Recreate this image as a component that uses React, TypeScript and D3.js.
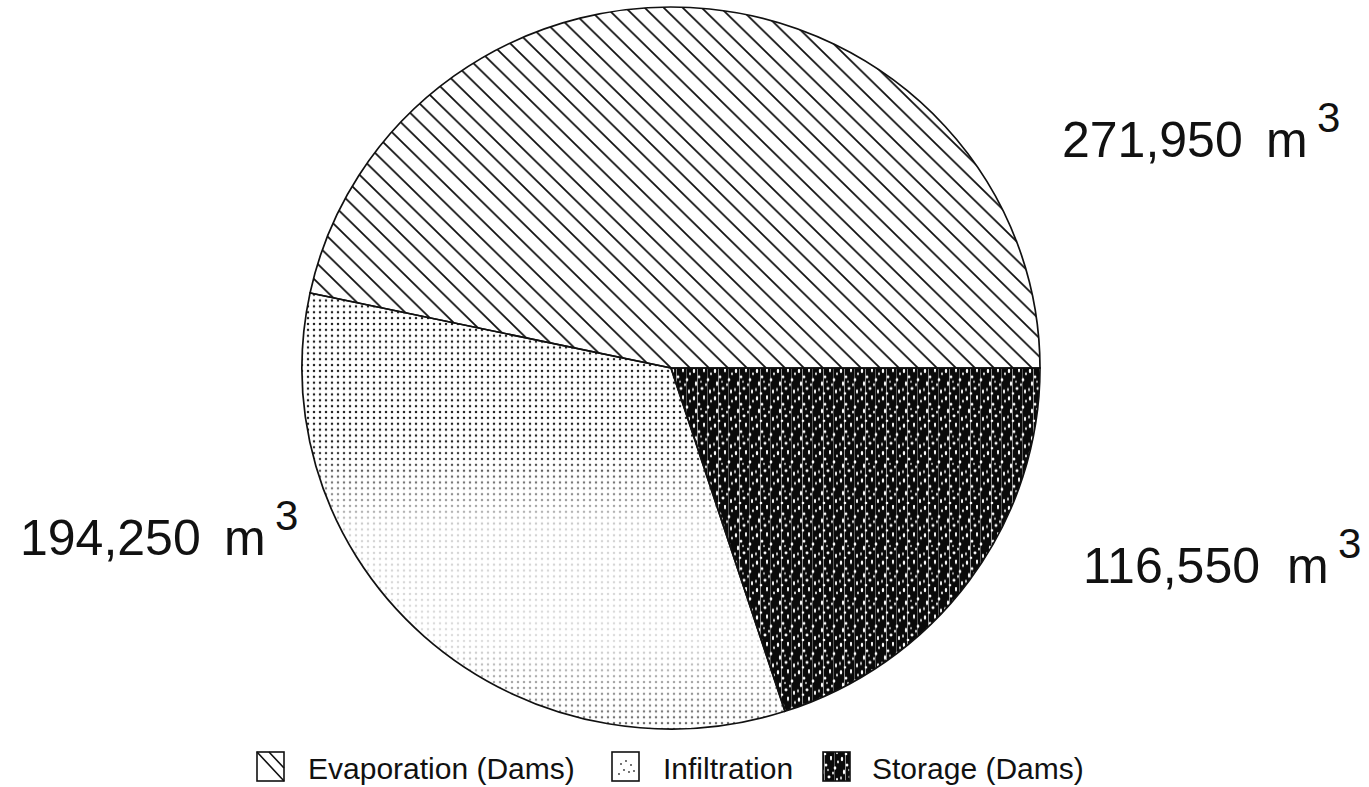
import * as d3 from "d3";

// volumes (m3)
const categories = ["Evaporation (Dams)", "Infiltration", "Storage (Dams)"];
const volumes = [271950, 194250, 116550];
const fills = ["url(#hatch)", "url(#dots)", "url(#grain)"];

// where each value label sits (left x, baseline y)
const labelPos = [
  [1062, 157],
  [20, 555],
  [1083, 583],
];
// legend rows: box x, text x
const legendPos = [
  [257, 308],
  [612, 663],
  [823, 872],
];

const W = 1369;
const H = 787;
const cx = 671;
const cy = 368;
const rx = 369;
const ry = 361;

const fmt = d3.format(",");

// white specks for the dark storage texture
const specks = [
  [2, 3, 1.2, 2.2], [7, 9, 1.4, 1.6], [12, 2, 1, 2.5], [16, 12, 1.3, 1.8],
  [4, 16, 1.1, 2.4], [10, 21, 1.5, 1.4], [18, 24, 1, 2.2], [6, 26, 1.3, 1.2],
  [14, 17, 0.9, 1.6], [1, 22, 0.8, 1.8], [19, 6, 0.9, 1.4], [9, 14, 0.7, 1.2],
];

export default function App() {
  const pie = d3
    .pie<number>()
    .sort(null)
    .startAngle(Math.PI / 2)
    .endAngle(Math.PI / 2 - 2 * Math.PI);
  const arcs = pie(volumes);
  const arc = d3.arc<d3.PieArcDatum<number>>().innerRadius(0).outerRadius(rx);

  const font = "'Liberation Sans', Arial, Helvetica, sans-serif";

  return (
    <svg
      width={W}
      height={H}
      style={{ position: "absolute", left: 0, top: 0, background: "#fff" }}
      fontFamily={font}
    >
      <defs>
        <pattern id="hatch" width={19} height={19} patternUnits="userSpaceOnUse">
          <rect width={19} height={19} fill="#fff" />
          <path
            d="M-4.75,14.25 L4.75,23.75 M0,0 L19,19 M14.25,-4.75 L23.75,4.75"
            stroke="#111"
            strokeWidth={1.8}
          />
        </pattern>
        <pattern id="dots" width={6} height={6} patternUnits="userSpaceOnUse">
          <rect width={6} height={6} fill="#fff" />
          <circle cx={3} cy={3} r={1.25} fill="#222" />
        </pattern>
        <pattern id="grain" width={21} height={28} patternUnits="userSpaceOnUse">
          <rect width={21} height={28} fill="#0a0a0a" />
          <rect x={5} y={0} width={1} height={28} fill="#fff" opacity={0.55} />
          <rect x={15} y={0} width={0.8} height={28} fill="#fff" opacity={0.4} />
          {specks.map(([x, y, a, b], i) => (
            <ellipse key={i} cx={x} cy={y} rx={a} ry={b} fill="#fff" />
          ))}
        </pattern>
        <linearGradient id="fade" x1="0" y1="0" x2="0" y2="1">
          <stop offset="0" stopColor="#fff" />
          <stop offset="0.6" stopColor="#fff" />
          <stop offset="0.72" stopColor="#fff" stopOpacity={0.2} />
          <stop offset="0.88" stopColor="#fff" stopOpacity={0.15} />
          <stop offset="1" stopColor="#fff" stopOpacity={0.7} />
        </linearGradient>
        <mask id="fadeMask" maskContentUnits="userSpaceOnUse">
          <rect x={-rx} y={-rx} width={2 * rx} height={2 * rx} fill="url(#fade)" />
        </mask>
      </defs>

      <g transform={`translate(${cx},${cy}) scale(1,${ry / rx})`}>
        {arcs.map((d, i) => (
          <path key={categories[i]} d={arc(d) || ""} fill="#fff" />
        ))}
        {arcs.map((d, i) => (
          <path
            key={"f" + categories[i]}
            d={arc(d) || ""}
            fill={fills[i]}
            mask={i === 1 ? "url(#fadeMask)" : undefined}
          />
        ))}
        {arcs.map((d, i) => (
          <path
            key={"s" + categories[i]}
            d={arc(d) || ""}
            fill="none"
            stroke="#111"
            strokeWidth={1.7}
          />
        ))}
      </g>

      {volumes.map((v, i) => {
        const [x, y] = labelPos[i];
        return (
          <g key={"lab" + i} fill="#111">
            <text x={x} y={y} fontSize={50}>
              {fmt(v)}
            </text>
            <text x={x + 204} y={y} fontSize={50}>
              m
            </text>
            <text x={x + 255} y={y - 25} fontSize={42}>
              3
            </text>
          </g>
        );
      })}

      {categories.map((c, i) => {
        const [bx, tx] = legendPos[i];
        const by = 752;
        return (
          <g key={"leg" + c}>
            {i === 0 && (
              <>
                <rect x={bx} y={by} width={27} height={29} fill="#fff" />
                <path
                  d={`M${bx},${by} L${bx + 27},${by + 29} M${bx + 12},${by} L${bx + 27},${by + 16}`}
                  stroke="#111"
                  strokeWidth={1.6}
                />
              </>
            )}
            {i === 1 && (
              <>
                <rect x={bx} y={by} width={27} height={29} fill="#fff" />
                {[[9, 12], [14, 9], [19, 13], [12, 18], [17, 20], [7, 22], [22, 19]].map(([x, y], k) => (
                  <circle key={k} cx={bx + x} cy={by + y} r={0.9} fill="#333" />
                ))}
              </>
            )}
            {i === 2 && <rect x={bx} y={by} width={27} height={29} fill="url(#grain)" />}
            <rect
              x={bx}
              y={by}
              width={27}
              height={29}
              fill="none"
              stroke="#111"
              strokeWidth={1.6}
            />
            <text x={tx} y={779} fontSize={30} fill="#111">
              {c}
            </text>
          </g>
        );
      })}
    </svg>
  );
}
